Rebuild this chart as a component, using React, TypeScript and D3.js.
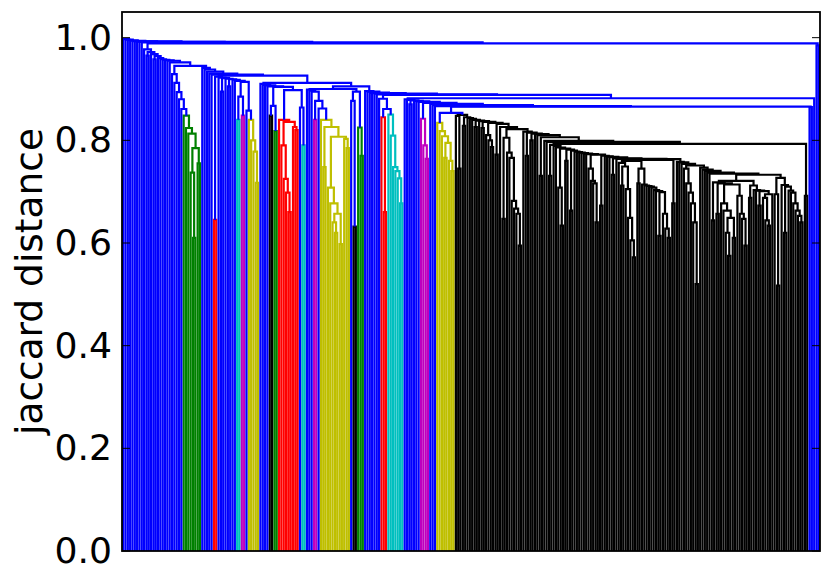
import React from "react";
import * as d3 from "d3";

const yTicks = [0, 0.2, 0.4, 0.6, 0.8, 1.0];
const yLabel = "jaccard distance";

// Merge height between each leaf and the next one, run by run (last entry joins to the next run)
const blueA = [.997,.996,.995,.994,.993,.993,.992,.992,.991,.977,.965,.972,.968,.958,.964,.960,.958,.957,.956,.955,.952,.929,.912,.894,.88,.861];
const greenA = [.848,.824,.813,.737,.61,.785,.755,.945];
const blueB = [.941,.938,.934,.930,.928];
const redA = [.645,.924];
const blueC = [.922,.895,.921,.92,.905,.919,.918,.916];
const cyanA = [.84,.885];
const magentaA = [.848,.914];
const blueD = [.858];
const yellowA = [.84,.80,.778,.717,.926];
const blueE = [.91,.908,.907,.905];
const blackA = [.848,.867];
const greenB = [.818,.904];
const redB = [.84,.79,.725,.698,.66,.836,.826,.82,.898];
const blueF = [.864];
const cyanB = [.79,.912];
const blueG = [.899,.897,.895];
const magentaB = [.84,.877];
const blueH = [.862];
const yellowB = [.84,.748,.826,.708,.677,.64,.62,.657,.598,.807,.803,.785,.90];
const blueI = [.877];
const blackB = [.632,.895];
const greenC = [.825,.77,.905];
const blueJ = [.896,.895,.893,.892,.891,.8895,.881];
const redC = [.845,.66,.861];
const cyanC = [.85,.809,.748,.74,.726,.677,.8885];
const blueK = [.880,.879,.87,.878,.877,.876,.875];
const magentaC = [.842,.79,.764,.873];
const blueL = [.871,.8685,.8665];
const yellowC = [.834,.818,.808,.766,.795,.76,.74,.8535];
const blackS1 = [.8478,.745,.8497,.828,.845,.8435,.842];
const blackS2 = [.84,.826,.8385,.8375,.824,.836,.81,.80,.787];
const blackS3 = [.834,.772,.832,.826];
const blackS4 = [.647,.805,.776,.766,.682,.667,.657,.595,.822];
const blackS5 = [.817,.77,.815,.80,.813,.812,.81,.731,.806,.799,.797];
const blackS6 = [.731,.791,.789,.786,.708,.634,.784,.76,.782,.663,.78,.778,.777,.776,.775,.774,.773];
const blackS7 = [.745,.721,.716,.64,.772,.673,.77,.769,.768,.767,.733,.765,.764];
const blackS8 = [.756,.712,.749,.705,.649,.605,.572,.76];
const blackS9 = [.716,.745,.714,.712,.711,.71,.708,.703,.701,.614,.699,.657,.628,.61,.762,.677,.7635];
const blackS10 = [.758,.757,.754,.745,.716,.698,.677,.64,.52,.751,.747];
const blackS11 = [.743,.7405,.737,.735,.644,.718,.657,.716,.677,.663,.62,.575,.649,.61,.714,.692,.657,.647,.595,.721];
const blackS12 = [.688,.712,.703,.702,.673,.701,.688,.644,.634,.695,.733];
const blackS13 = [.695,.517,.727,.713,.62,.71,.702,.698,.677,.663,.653,.64,.793,.692,.8658];
const blackMain = [...blackS1,...blackS2,...blackS3,...blackS4,...blackS5,...blackS6,...blackS7,...blackS8,...blackS9,...blackS10,...blackS11,...blackS12,...blackS13];
const blueM = [.8645,.882,.989,.985];

const BLUE = "#0000ff", GREEN = "#008000", RED = "#ff0000", CYAN = "#00bfbf", MAGENTA = "#bf00bf", YELLOW = "#bfbf00", BLACK = "#000000";

const runs: [string, number[]][] = [
  [BLUE, blueA],[GREEN, greenA],[BLUE, blueB],[RED, redA],[BLUE, blueC],[CYAN, cyanA],[MAGENTA, magentaA],[BLUE, blueD],
  [YELLOW, yellowA],[BLUE, blueE],[BLACK, blackA],[GREEN, greenB],[RED, redB],[BLUE, blueF],[CYAN, cyanB],[BLUE, blueG],
  [MAGENTA, magentaB],[BLUE, blueH],[YELLOW, yellowB],[BLUE, blueI],[BLACK, blackB],[GREEN, greenC],[BLUE, blueJ],[RED, redC],
  [CYAN, cyanC],[BLUE, blueK],[MAGENTA, magentaC],[BLUE, blueL],[YELLOW, yellowC],[BLACK, blackMain],[BLUE, blueM],
];

const M = { left: 122, right: 820, top: 12, bottom: 551 };

type Link = { pts: [number, number][]; color: string };

function buildLinks() {
  const gaps: number[] = [];
  const runOf: number[] = [];
  runs.forEach(([, g], r) => g.forEach((v) => { gaps.push(v); runOf.push(r); }));
  runOf.push(runs.length - 1);
  const n = gaps.length + 1;
  const x = d3.scaleLinear().domain([0, n]).range([M.left, M.right]);
  const links: Link[] = [];
  const build = (lo: number, hi: number): { x: number; h: number } => {
    if (lo === hi) return { x: lo + 0.5, h: 0 };
    let k = lo;
    for (let i = lo; i < hi; i++) if (gaps[i] > gaps[k]) k = i;
    const L = build(lo, k);
    const R = build(k + 1, hi);
    const h = gaps[k];
    const color = runOf[lo] === runOf[hi] ? runs[runOf[lo]][0] : BLUE;
    links.push({ pts: [[L.x, L.h], [L.x, h], [R.x, h], [R.x, R.h]], color });
    return { x: (L.x + R.x) / 2, h };
  };
  build(0, n - 1);
  links.sort((a, b) => Number(a.color === BLUE) - Number(b.color === BLUE));
  return { links, x };
}

export default function App() {
  const y = d3.scaleLinear().domain([0, 1.05]).range([M.bottom, M.top]);
  const { links, x } = buildLinks();
  const line = d3.line<[number, number]>().x((d) => x(d[0])).y((d) => y(d[1]));
  const font = "'DejaVu Sans', sans-serif";
  return (
    <svg width={831} height={581} style={{ position: "absolute", left: 0, top: 0, background: "#fff" }}>
      <g fill="none" strokeWidth={2.2} strokeLinejoin="miter">
        {links.map((l, i) => (
          <path key={i} d={line(l.pts) as string} stroke={l.color} />
        ))}
      </g>
      <rect x={M.left} y={M.top} width={M.right - M.left} height={M.bottom - M.top} fill="none" stroke="#000" strokeWidth={1.8} />
      {yTicks.map((t) => (
        <g key={t}>
          <line x1={M.left} x2={M.left + 8} y1={y(t)} y2={y(t)} stroke="#000" strokeWidth={1} />
          <line x1={M.right - 8} x2={M.right} y1={y(t)} y2={y(t)} stroke="#000" strokeWidth={1} />
          <text x={112} y={y(t)} dy="0.33em" textAnchor="end" fontFamily={font} fontSize={36.2} fill="#000">
            {t.toFixed(1)}
          </text>
        </g>
      ))}
      <text transform="translate(42,281.5) rotate(-90)" textAnchor="middle" fontFamily={font} fontSize={37.5} fill="#000">
        {yLabel}
      </text>
    </svg>
  );
}
